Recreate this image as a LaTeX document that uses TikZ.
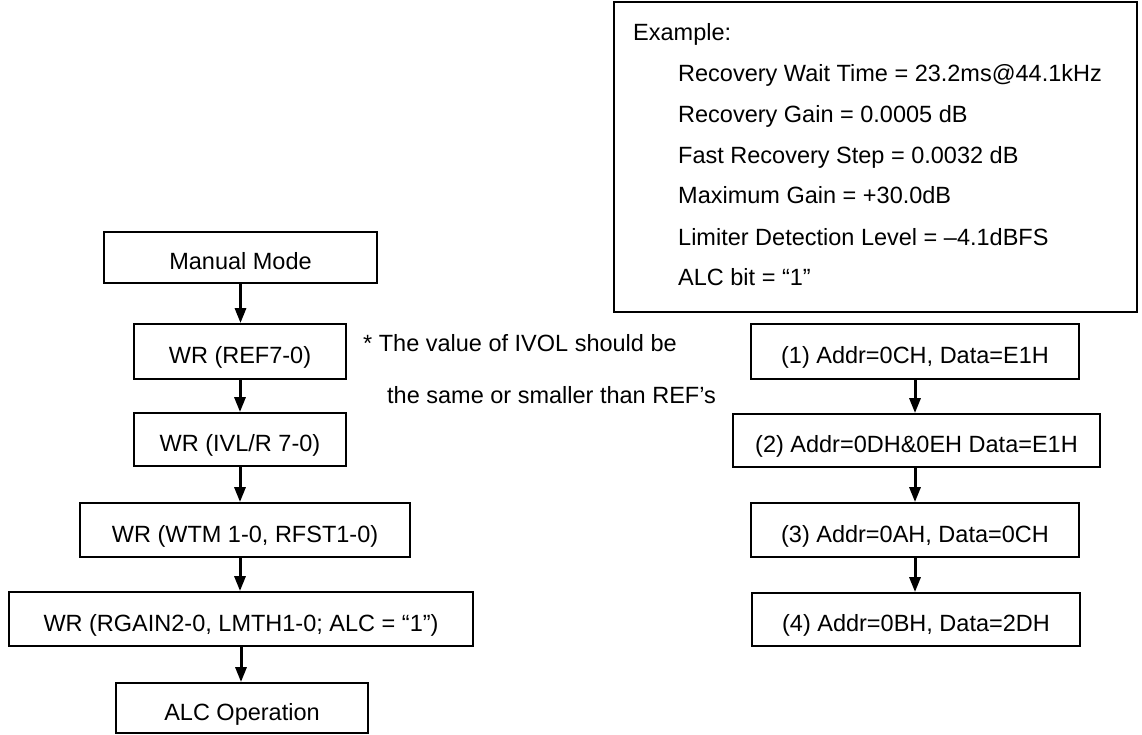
\documentclass[tikz,border=0pt]{standalone}
\usepackage{fontspec}
\setmainfont{Liberation Sans}
\usetikzlibrary{arrows.meta}
\tikzset{
  txt/.style={font=\fontsize{23.5}{28}\selectfont, inner sep=0pt},
  flowbox/.style={txt, draw, line width=1.8pt, text height=24pt, text depth=0pt},
  arr/.style={line width=3pt, -{Triangle[length=15pt,width=11pt]}},
  line/.style={txt, anchor=base west}
}
\begin{document}
\begin{tikzpicture}[x=1pt,y=-1pt]
\useasboundingbox (0,0) rectangle (1142,735);
% left flow
\node[flowbox, minimum width=273pt, minimum height=51pt] (manual) at (240.5,257.5) {Manual Mode};
\node[flowbox, minimum width=212pt, minimum height=55pt] (ref) at (240,351.5) {WR (REF7-0)};
\node[flowbox, minimum width=212pt, minimum height=53pt] (ivl) at (240,439.5) {WR (IVL/R 7-0)};
\node[flowbox, minimum width=330pt, minimum height=54pt] (wtm) at (245,530) {WR (WTM 1-0, RFST1-0)};
\node[flowbox, minimum width=464pt, minimum height=54pt] (rgain) at (241,619) {WR (RGAIN2-0, LMTH1-0; ALC = “1”)};
\node[flowbox, minimum width=252pt, minimum height=50pt] (alcop) at (242,708) {ALC Operation};
\draw[arr] (manual.south) -- (manual.south |- ref.north);
\draw[arr] (ref.south) -- (ref.south |- ivl.north);
\draw[arr] (ivl.south) -- (ivl.south |- wtm.north);
\draw[arr] (ivl.south |- wtm.south) -- (ivl.south |- rgain.north);
\draw[arr] (rgain.south) -- (rgain.south |- alcop.north);
% note
\node[line] (note1) at (363,351.7) {* The value of IVOL should be};
\node[line] (note2) at (387,403) {the same or smaller than REF’s};
% right flow
\node[flowbox, minimum width=328pt, minimum height=55pt] (b1) at (915,351.5) {(1) Addr=0CH, Data=E1H};
\node[flowbox, minimum width=367pt, minimum height=53pt] (b2) at (916.5,440.5) {(2) Addr=0DH\&0EH Data=E1H};
\node[flowbox, minimum width=328pt, minimum height=54pt] (b3) at (915,530) {(3) Addr=0AH, Data=0CH};
\node[flowbox, minimum width=328pt, minimum height=53pt] (b4) at (916,619.5) {(4) Addr=0BH, Data=2DH};
\draw[arr] (b1.south) -- (b1.south |- b2.north);
\draw[arr] (b1.south |- b2.south) -- (b1.south |- b3.north);
\draw[arr] (b3.south) -- (b3.south |- b4.north);
% example box
\node[draw, line width=1.8pt, minimum width=523pt, minimum height=310pt, inner sep=0pt] (ex) at (875.5,157) {};
\node[line] (e0) at (633,41) {Example:};
\node[line] (e1) at (678,82) {Recovery Wait Time = 23.2ms@44.1kHz};
\node[line] (e2) at (678,123) {Recovery Gain = 0.0005 dB};
\node[line] (e3) at (678,164) {Fast Recovery Step = 0.0032 dB};
\node[line] (e4) at (678,204) {Maximum Gain = +30.0dB};
\node[line] (e5) at (678,245) {Limiter Detection Level = –4.1dBFS};
\node[line] (e6) at (678,285) {ALC bit = “1”};
\end{tikzpicture}
\end{document}
